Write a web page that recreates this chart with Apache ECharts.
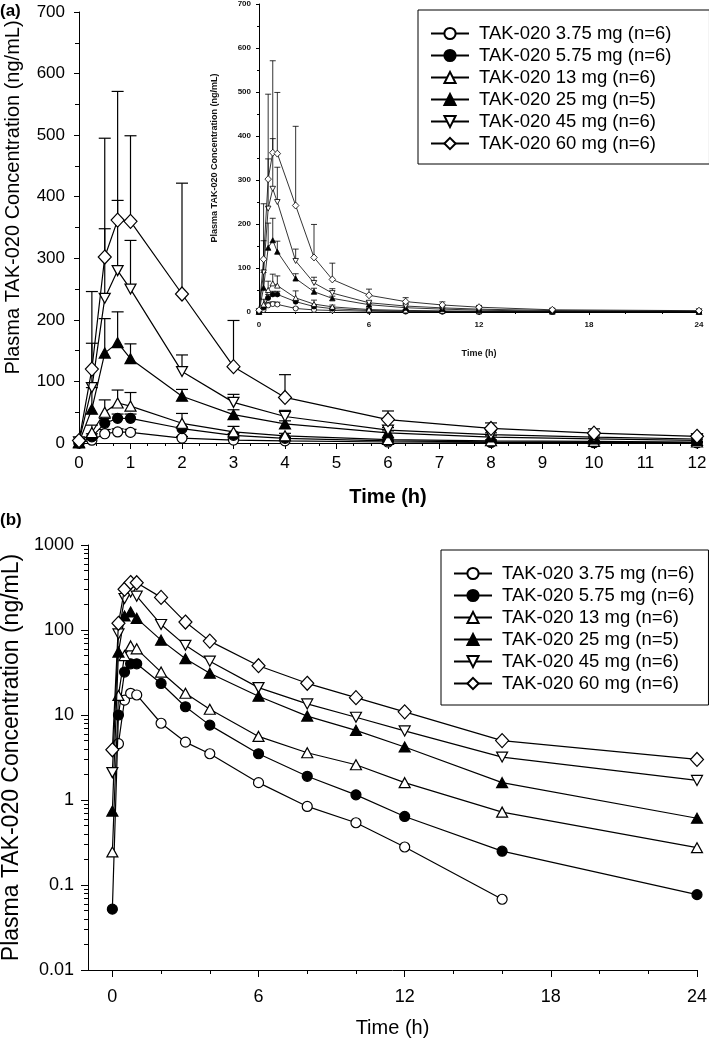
<!DOCTYPE html>
<html><head><meta charset="utf-8">
<script src="https://cdn.jsdelivr.net/npm/echarts@6/dist/echarts.min.js"></script>
<style>html,body{margin:0;padding:0;background:#fff}#c{width:709px;height:1043px}</style>
</head><body><div id="c"></div>
<script>
// ---- data ----
const times = [0, 0.25, 0.5, 0.75, 1, 2, 3, 4, 6, 8, 10, 12, 16, 24];
const seriesNames = ['TAK-020 3.75 mg (n=6)', 'TAK-020 5.75 mg (n=6)', 'TAK-020 13 mg (n=6)',
                     'TAK-020 25 mg (n=5)', 'TAK-020 45 mg (n=6)', 'TAK-020 60 mg (n=6)'];
const mean_3_75 = [0, 4.6, 15, 18, 17.2, 8.0, 4.8, 3.5, 1.6, 0.84, 0.54, 0.28, 0.068, null];
const mean_5_75 = [0.052, 10, 32, 40, 40, 23.5, 12.5, 7.6, 3.5, 1.9, 1.15, 0.64, 0.25, 0.077];
const mean_13   = [0.245, 17, 50, 65, 60, 32, 18, 11.7, 5.6, 3.6, 2.6, 1.6, 0.72, 0.275];
const mean_25   = [0.74, 55, 146, 163, 137, 76, 46, 31, 16.6, 9.7, 6.6, 4.2, 1.6, 0.61];
const mean_45   = [2.1, 90, 235, 280, 250, 116, 66, 43, 21, 13.5, 9.4, 6.5, 3.2, 1.7];
const mean_60   = [3.9, 120, 302, 362, 360, 242, 124, 74, 38, 23.6, 16, 10.9, 5.0, 3.0];
const sd_3_75 = [0, 3, 7, 5, 5, 2.5, 1.5, 1, 0.5, 0.3, 0.2, 0.1, 0.05, 0];
const sd_5_75 = [0, 5, 8, 7, 7, 2.5, 2.5, 1.5, 1, 0.5, 0.3, 0.2, 0.1, 0.05];
const sd_13   = [0, 12, 20, 21, 22, 16, 9, 4, 2.5, 1.5, 1, 0.7, 0.3, 0.1];
const sd_25   = [0, 35, 56, 50, 24, 11, 8, 5, 3, 2, 1.5, 1, 0.5, 0.2];
const sd_45   = [0, 72, 113, 114, 79, 27, 13, 10, 4, 3, 2, 1.5, 1, 0.5];
const sd_60   = [0, 126, 193, 209, 139, 180, 75, 37, 14, 9, 7, 4, 2, 1];
const xTicksB = [0, 6, 12, 18, 24];
const xMinorB = [2, 4, 8, 10, 14, 16, 20, 22];
const yTicksB = [0.01, 0.1, 1, 10, 100, 1000];

const means = [mean_3_75, mean_5_75, mean_13, mean_25, mean_45, mean_60];
const sds = [sd_3_75, sd_5_75, sd_13, sd_25, sd_45, sd_60];

// ---- styles ----
const downTri = 'path://M0,0L10,0L5,8.66Z';
const symbols = ['circle', 'circle', 'triangle', 'triangle', downTri, 'diamond'];
const fills = ['#fff', '#000', '#fff', '#000', '#fff', '#fff'];
const sizesA = [10, 10, [11, 10], [11, 10], [11, 10], [13, 14]];
const sizesIn = [5, 5, [5.5, 5], [5.5, 5], [5.5, 5], [6.5, 7]];
const sizesB = [10, 10, [11, 10], [11, 10], [11, 10], [13, 14]];
const yMinorB = [];
yTicksB.slice(0, -1).forEach(d => { for (let k = 2; k <= 9; k++) yMinorB.push(+(d * k).toPrecision(3)); });

const F = 'Liberation Sans, Arial, sans-serif';
const FN = 'Liberation Sans Narrow, Arial Narrow, Liberation Sans, sans-serif';
const axLine = {show: true, onZero: false, lineStyle: {color: '#000', width: 1}};

function errRender(capW, lw) {
  return function (params, api) {
    const x = api.value(0), m = api.value(1), top = api.value(2);
    const p0 = api.coord([x, m]), p1 = api.coord([x, top]);
    return {type: 'group', children: [
      {type: 'line', shape: {x1: p0[0], y1: p0[1], x2: p1[0], y2: p1[1]}, style: {stroke: '#000', lineWidth: lw}},
      {type: 'line', shape: {x1: p1[0] - capW / 2, y1: p1[1], x2: p1[0] + capW / 2, y2: p1[1]}, style: {stroke: '#000', lineWidth: lw}}
    ]};
  };
}

const series = [];
function errData(maxT) {
  const out = [];
  means.forEach((m, i) => times.forEach((t, j) => {
    if (t <= maxT && m[j] != null && sds[i][j] > 0) out.push([t, m[j], m[j] + sds[i][j]]);
  }));
  return out;
}
series.push({type: 'custom', xAxisIndex: 0, yAxisIndex: 0, z: 1, silent: true,
  renderItem: errRender(12, 1.2), encode: {x: 0, y: [1, 2]}, data: errData(12)});
series.push({type: 'custom', xAxisIndex: 1, yAxisIndex: 1, z: 1, silent: true,
  renderItem: errRender(6, 0.8), encode: {x: 0, y: [1, 2]}, data: errData(24)});

seriesNames.forEach((name, i) => {
  const base = {type: 'line', name: name, symbol: symbols[i], z: 2 + i,
    itemStyle: {color: fills[i], borderColor: '#000', borderWidth: 1.2},
    lineStyle: {color: '#000', width: 1.2}, emphasis: {disabled: true}};
  series.push(Object.assign({}, base, {xAxisIndex: 0, yAxisIndex: 0, symbolSize: sizesA[i],
    data: times.map((t, j) => [t, means[i][j]]).filter(d => d[0] <= 12 && d[1] != null)}));
  series.push(Object.assign({}, base, {xAxisIndex: 1, yAxisIndex: 1, symbolSize: sizesIn[i],
    itemStyle: {color: fills[i], borderColor: '#000', borderWidth: 0.8},
    lineStyle: {color: '#000', width: 0.8},
    data: times.map((t, j) => [t, means[i][j]]).filter(d => d[1] != null)}));
  series.push(Object.assign({}, base, {xAxisIndex: 2, yAxisIndex: 2, symbolSize: sizesB[i],
    data: times.map((t, j) => [t, means[i][j]]).filter(d => d[1] != null && d[1] > 0)}));
});

const legendCommon = {orient: 'vertical', borderColor: '#000', borderWidth: 1, itemWidth: 38, itemHeight: 14,
  itemGap: 3, data: seriesNames, selectedMode: false,
  textStyle: {fontFamily: F, fontSize: 18.5, color: '#000', padding: [0, 0, 0, 5]}};

const gridBase = {containLabel: false, outerBoundsMode: 'none'};

const option = {
  animation: false,
  backgroundColor: '#fff',
  title: [
    {text: '(a)', left: 0, top: 3, padding: 0, textStyle: {fontFamily: F, fontSize: 17, fontWeight: 'bold', color: '#000'}},
    {text: '(b)', left: 0, top: 512, padding: 0, textStyle: {fontFamily: F, fontSize: 17, fontWeight: 'bold', color: '#000'}}
  ],
  legend: [
    Object.assign({}, legendCommon, {left: 418, top: 10, padding: [14, 38, 11, 12]}),
    Object.assign({}, legendCommon, {left: 441, top: 550, padding: [14, 14, 12, 12]})
  ],
  grid: [
    Object.assign({left: 79, top: 12, width: 618, height: 431}, gridBase),
    Object.assign({left: 259, top: 4, width: 440, height: 308}, gridBase),
    Object.assign({left: 88, top: 545, width: 609, height: 425}, gridBase)
  ],
  xAxis: [
    {gridIndex: 0, type: 'value', position: 'bottom', min: 0, max: 12, interval: 1, axisLine: axLine,
     axisTick: {length: 6, lineStyle: {color: '#000'}}, minorTick: {show: true, splitNumber: 3, length: 3, lineStyle: {color: '#000'}},
     splitLine: {show: false},
     axisLabel: {fontFamily: F, fontSize: 17, color: '#000', margin: 12},
     name: 'Time (h)', nameLocation: 'middle', nameGap: 44,
     nameTextStyle: {fontFamily: F, fontSize: 20, fontWeight: 'bold', color: '#000'}},
    {gridIndex: 1, type: 'value', position: 'bottom', min: 0, max: 24, interval: 6, axisLine: axLine,
     axisTick: {length: 3, lineStyle: {color: '#000'}}, minorTick: {show: true, splitNumber: 3, length: 2, lineStyle: {color: '#000'}},
     splitLine: {show: false},
     axisLabel: {fontFamily: F, fontSize: 8, fontWeight: 'bold', color: '#111', margin: 9},
     name: 'Time (h)', nameLocation: 'middle', nameGap: 37,
     nameTextStyle: {fontFamily: F, fontSize: 9, fontWeight: 'bold', color: '#111'}},
    {gridIndex: 2, type: 'value', position: 'bottom', min: -1, max: 24, axisLine: axLine,
     axisTick: {length: 7, customValues: xTicksB, lineStyle: {color: '#000'}},
     splitLine: {show: false},
     axisLabel: {fontFamily: FN, fontSize: 18, color: '#000', margin: 18, customValues: xTicksB},
     name: 'Time (h)', nameLocation: 'middle', nameGap: 48,
     nameTextStyle: {fontFamily: F, fontSize: 20, color: '#000'}},
    {gridIndex: 2, type: 'value', position: 'bottom', offset: 0, min: -1, max: 24, axisLine: {show: false, onZero: false},
     axisTick: {length: 4, customValues: xMinorB, lineStyle: {color: '#000'}},
     splitLine: {show: false}, axisLabel: {show: false}}
  ],
  yAxis: [
    {gridIndex: 0, type: 'value', position: 'left', min: 0, max: 700, interval: 100, axisLine: axLine,
     axisTick: {length: 5, lineStyle: {color: '#000'}}, minorTick: {show: true, splitNumber: 2, length: 4, lineStyle: {color: '#000'}},
     splitLine: {show: false},
     axisLabel: {fontFamily: F, fontSize: 17, color: '#000', margin: 14},
     name: 'Plasma TAK-020 Concentration (ng/mL)', nameLocation: 'middle', nameGap: 56,
     nameTextStyle: {fontFamily: F, fontSize: 20, color: '#000', padding: [0, 0, 0, 60]}},
    {gridIndex: 1, type: 'value', position: 'left', min: 0, max: 700, interval: 100, axisLine: axLine,
     axisTick: {length: 3, lineStyle: {color: '#000'}}, minorTick: {show: true, splitNumber: 2, length: 2, lineStyle: {color: '#000'}},
     splitLine: {show: false},
     axisLabel: {fontFamily: F, fontSize: 8, fontWeight: 'bold', color: '#111', margin: 8},
     name: 'Plasma TAK-020 Concentration (ng/mL)', nameLocation: 'middle', nameGap: 40,
     nameTextStyle: {fontFamily: F, fontSize: 9, fontWeight: 'bold', color: '#111'}},
    {gridIndex: 2, type: 'log', position: 'left', logBase: 10, min: 0.01, max: 1000, axisLine: axLine,
     axisTick: {length: 7, customValues: yTicksB, lineStyle: {color: '#000'}},
     splitLine: {show: false},
     axisLabel: {fontFamily: FN, fontSize: 18, color: '#000', margin: 14, customValues: yTicksB,
       formatter: v => String(+(+v).toPrecision(3))},
     name: 'Plasma TAK-020 Concentration (ng/mL)', nameLocation: 'middle', nameGap: 62,
     nameTextStyle: {fontFamily: F, fontSize: 23, color: '#000'}},
    {gridIndex: 2, type: 'log', position: 'left', offset: 0, logBase: 10, min: 0.01, max: 1000, axisLine: {show: false, onZero: false},
     axisTick: {length: 4, customValues: yMinorB, lineStyle: {color: '#000'}},
     splitLine: {show: false}, axisLabel: {show: false}}
  ],
  series: series
};
const chart = echarts.init(document.getElementById('c'), null, {renderer: 'canvas'});
chart.setOption(option);
</script></body></html>
